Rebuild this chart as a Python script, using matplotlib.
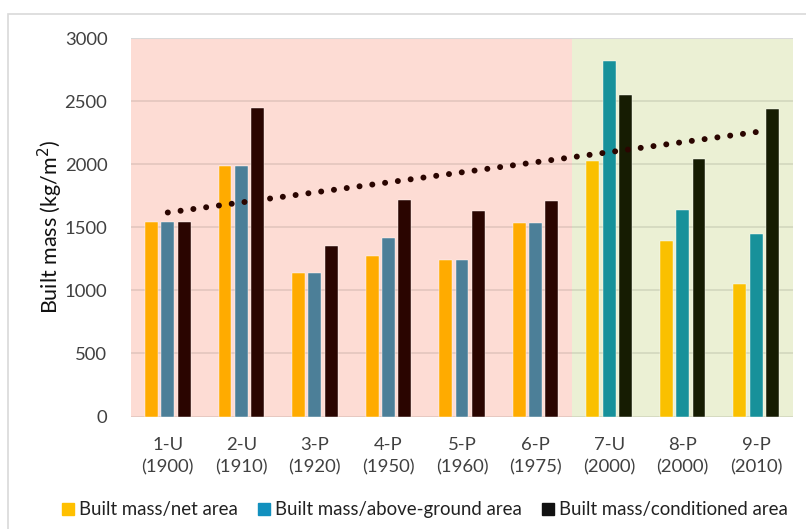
import numpy as np
import matplotlib.pyplot as plt
from matplotlib.patches import Rectangle
from matplotlib.lines import Line2D

plt.rcParams['font.family'] = ['Lato', 'DejaVu Sans']

cases = ['1-U\n(1900)', '2-U\n(1910)', '3-P\n(1920)', '4-P\n(1950)', '5-P\n(1960)',
         '6-P\n(1975)', '7-U\n(2000)', '8-P\n(2000)', '9-P\n(2010)']
net_area = [1540, 1985, 1135, 1272, 1240, 1530, 2025, 1393, 1050]
above_ground = [1540, 1985, 1135, 1418, 1240, 1530, 2820, 1640, 1443]
conditioned = [1540, 2445, 1348, 1715, 1632, 1710, 2552, 2042, 2437]
series_names = ['Built mass/net area', 'Built mass/above-ground area',
                'Built mass/conditioned area']

# old buildings (pink zone) vs new buildings (green zone)
n_old = 6
old_colors = ['#FFAB00', '#4C7F98', '#2A0500']
new_colors = ['#FAC000', '#17919A', '#161C02']
legend_colors = ['#FFC000', '#1290BE', '#111111']

fig = plt.figure(figsize=(8.06, 5.29), dpi=100)
ax = fig.add_axes([131 / 806, 1 - 416.5 / 529, (793 - 131) / 806, (416.5 - 38) / 529])

# outer frame
fig.patches.append(Rectangle((8 / 806, -0.1), 1.2, 1 - 14 / 529 + 0.1,
                             transform=fig.transFigure, fill=False,
                             edgecolor='#D9D9D9', lw=1.2))

ax.axvspan(-0.5, n_old - 0.5, color='#FDDCD4', zorder=0, lw=0)
ax.axvspan(n_old - 0.5, len(cases) - 0.5, color='#EBF0D4', zorder=0, lw=0)

x = np.arange(len(cases))
w = 0.175
step = 0.222
for i, vals in enumerate([net_area, above_ground, conditioned]):
    cols = [old_colors[i] if k < n_old else new_colors[i] for k in range(len(cases))]
    ax.bar(x + (i - 1) * step, vals, width=w, color=cols,
           edgecolor='#FFFFFF', linewidth=0.3, zorder=3)

# linear trendline of conditioned-area series
coef = np.polyfit(x + 1, conditioned, 1)
ax.plot(x, np.polyval(coef, x + 1), color='#2A0500', lw=4.3,
        linestyle=(0, (0.01, 2.15)), dash_capstyle='round', zorder=4)

for yv in [500, 1000, 1500, 2000, 2500]:
    ax.axhline(yv, color='black', alpha=0.1, lw=1.2, zorder=1)
ax.axhline(0, color='black', alpha=0.1, lw=1.2, zorder=1)
ax.axhline(3000, color='#D9D9D9', lw=1.5, zorder=1)

ax.set_xlim(-0.5, len(cases) - 0.5)
ax.set_ylim(0, 3000)
ax.set_yticks(range(0, 3001, 500))
ax.set_xticks(x)
ax.set_xticklabels(cases, linespacing=1.45)
ax.tick_params(axis='both', length=0, labelsize=13.3, colors='#404040')
ax.tick_params(axis='y', pad=17)
ax.tick_params(axis='x', pad=15)
for s in ax.spines.values():
    s.set_visible(False)

fig.text(50 / 806, 1 - 227 / 529, 'Built mass (kg/m$^2$)', rotation=90,
         ha='center', va='center', fontsize=15.5, color='#111111')

handles = [Line2D([], [], marker='s', ls='none', markersize=8.5,
                  markerfacecolor=c, markeredgecolor=c) for c in legend_colors]
fig.legend(handles, series_names, loc='center', bbox_to_anchor=(425 / 806, 1 - 510 / 529),
           ncol=3, frameon=False, fontsize=13.4, handlelength=0.6, handletextpad=0.3,
           columnspacing=1.1, labelcolor='#222222')

fig.savefig('out.png', dpi=100)
